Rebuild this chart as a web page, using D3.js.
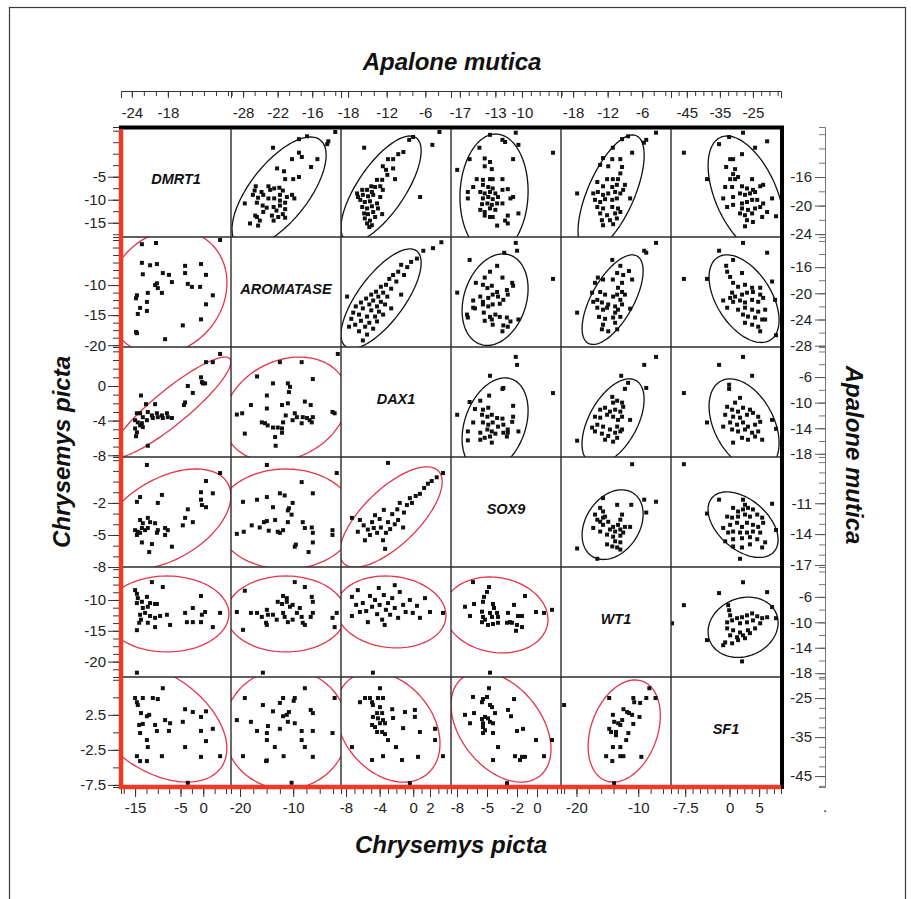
<!DOCTYPE html>
<html><head><meta charset="utf-8">
<script src="https://cdn.jsdelivr.net/npm/d3@7"></script>
<style>
body{margin:0;background:#fff;}
svg text{font-family:"Liberation Sans",Arial,sans-serif;}
</style></head>
<body>
<svg id="chart" width="911" height="899"></svg>
<script>
// ---------------- categories ----------------
const genes = ["DMRT1","AROMATASE","DAX1","SOX9","WT1","SF1"];

// ---------------- axis scales / tick labels ----------------
// Apalone mutica: top (x per column) and right (y per row)
const apTopDomains   = [[-25.8,-7.5],[-30.1,-11],[-19.1,-2],[-18,-5.6],[-20.1,-1],[-49.8,-16.5]];
const apTopTicks     = [[-24,-18],[-28,-22,-16],[-18,-12,-6],[-17,-13,-10],[-18,-12,-6],[-45,-35,-25]];
const apTopMinor     = [2,2,2,1,2,2.5];
const apRightDomains = [[-24.4,-9],[-28.2,-11.4],[-18.5,-1.3],[-17.2,-6.5],[-18.6,-1.3],[-47.8,-19.6]];
const apRightTicks   = [[-16,-20,-24],[-16,-20,-24,-28],[-6,-10,-14,-18],[-11,-14,-17],[-6,-10,-14,-18],[-25,-35,-45]];
const apRightMinor   = [2,2,2,1,2,2.5];
// Chrysemys picta: bottom (x per column) and left (y per row)
const cpBottomDomains = [[-18.1,6.1],[-21.7,-1],[-8.6,4.5],[-8.6,2.4],[-22.5,-4.7],[-9.9,8.7]];
const cpBottomTicks   = [[-15,-5,0],[-20,-10],[-8,-4,0,2],[-8,-5,-2,0],[-20,-10],[-7.5,0,5]];
const cpBottomMinor   = [2.5,2.5,1,1,2,1.25];
const cpLeftDomains   = [[-18.1,5.8],[-20.3,-2],[-8.2,4.5],[-8,2.3],[-22.5,-4.65],[-7.8,7.9]];
const cpLeftTicks     = [[-5,-10,-15],[-10,-15,-20],[0,-4,-8],[-2,-5,-8],[-10,-15,-20],[2.5,-2.5,-7.5]];
const cpLeftMinor     = [2.5,1.25,1,1,1.25,2.5];

// ---------------- Apalone mutica points [x = column gene, y = row gene] ----------------
const apDMRT1_AROM = [[-12.0,-9.7],[-13.2,-11.0],[-13.4,-11.4],[-16.9,-10.3],[-18.3,-10.7],[-22.8,-11.9],[-18.3,-12.6],[-17.8,-13.2],[-19.5,-13.5],[-15.1,-13.5],[-16.2,-14.6],[-22.1,-14.8],[-20.9,-15.2],[-20.7,-16.3],[-19.3,-16.3],[-18.3,-16.0],[-23.6,-17.3],[-25.8,-17.3],[-26.0,-17.9],[-24.8,-18.1],[-23.3,-17.8],[-22.6,-17.6],[-21.7,-17.5],[-21.1,-17.9],[-21.6,-18.5],[-20.4,-18.8],[-19.5,-18.5],[-26.3,-18.5],[-25.4,-18.9],[-24.5,-18.5],[-23.6,-19.0],[-22.6,-19.0],[-21.6,-19.3],[-20.7,-19.6],[-19.1,-19.0],[-25.6,-19.6],[-27.7,-19.7],[-24.6,-20.0],[-23.9,-20.3],[-22.7,-20.2],[-21.6,-20.0],[-20.7,-20.5],[-25.9,-21.4],[-24.5,-20.9],[-23.0,-21.4],[-22.2,-20.7],[-21.1,-21.2],[-20.7,-21.7],[-25.1,-22.1],[-26.8,-22.5],[-25.4,-22.8],[-22.7,-22.1],[-21.9,-21.6],[-25.6,-21.6]];
const apDMRT1_DAX1 = [[-3.8,-9.7],[-4.9,-11.5],[-6.8,-18.8],[-15.5,-11.9],[-8.5,-10.8],[-7.9,-10.4],[-9.4,-12.5],[-10.2,-12.8],[-11.0,-13.5],[-11.8,-13.5],[-12.6,-14.5],[-12.1,-15.0],[-11.0,-14.8],[-11.9,-15.7],[-10.7,-16.3],[-13.5,-16.4],[-12.7,-16.4],[-14.4,-17.3],[-13.8,-17.4],[-13.0,-17.3],[-16.6,-18.3],[-15.8,-17.8],[-15.05,-17.8],[-14.3,-18.1],[-16.45,-18.8],[-15.7,-18.5],[-14.9,-18.7],[-14.1,-18.5],[-13.0,-18.8],[-12.6,-17.8],[-16.1,-19.2],[-15.4,-19.5],[-14.6,-19.4],[-13.5,-19.7],[-15.8,-20.2],[-15.05,-20.4],[-14.3,-20.1],[-13.35,-20.4],[-15.5,-21.1],[-14.9,-21.2],[-14.1,-20.9],[-12.7,-21.2],[-15.4,-21.8],[-14.6,-22.1],[-13.8,-21.6],[-15.05,-22.5],[-14.3,-22.75],[-14.7,-23.0]];
const apDMRT1_SOX9 = [[-13.6,-10.1],[-10.7,-9.8],[-12.2,-10.8],[-11.9,-11.1],[-10.4,-11.5],[-14.8,-11.9],[-15.9,-13.5],[-11.0,-13.5],[-14.2,-13.4],[-13.6,-13.9],[-17.3,-15.0],[-14.2,-14.5],[-13.4,-14.9],[-15.1,-16.3],[-14.4,-16.4],[-13.6,-16.3],[-13.3,-16.3],[-12.2,-16.3],[-15.5,-17.4],[-16.1,-18.1],[-14.4,-17.1],[-13.8,-17.4],[-13.3,-17.6],[-14.7,-18.1],[-14.2,-18.3],[-13.6,-18.1],[-13.0,-18.3],[-12.2,-17.8],[-11.6,-17.7],[-16.1,-19.0],[-14.4,-19.0],[-13.8,-18.8],[-13.3,-19.1],[-12.7,-18.8],[-11.3,-19.0],[-11.0,-18.8],[-14.5,-19.8],[-13.9,-19.7],[-13.4,-19.9],[-12.8,-19.7],[-12.2,-19.7],[-14.7,-20.6],[-14.2,-20.9],[-13.6,-20.4],[-13.0,-20.6],[-10.4,-21.1],[-14.2,-21.4],[-13.6,-21.6],[-11.6,-21.4],[-11.9,-22.1],[-11.6,-22.5],[-12.8,-22.8],[-13.3,-21.6],[-6.5,-12.6]];
const apDMRT1_WT1 = [[-3.6,-9.8],[-8.45,-10.3],[-9.5,-10.7],[-5.3,-10.8],[-5.7,-11.2],[-11.1,-11.9],[-7.75,-12.6],[-12.8,-13.35],[-11.2,-13.5],[-9.8,-13.5],[-13.3,-14.3],[-11.9,-14.5],[-17.3,-18.3],[-9.5,-14.6],[-9.8,-15.5],[-10.2,-16.3],[-12.1,-16.3],[-11.1,-16.3],[-13.8,-16.7],[-12.8,-17.3],[-11.2,-17.4],[-10.4,-17.1],[-14.5,-18.3],[-13.7,-18.1],[-12.8,-18.5],[-11.9,-18.3],[-10.7,-18.1],[-9.8,-18.3],[-14.2,-19.2],[-13.3,-19.5],[-12.45,-19.1],[-11.2,-19.2],[-10.4,-19.0],[-8.1,-19.0],[-13.8,-20.2],[-12.8,-20.4],[-11.2,-20.2],[-10.2,-20.4],[-13.3,-21.1],[-12.1,-21.35],[-10.7,-21.1],[-9.8,-20.9],[-13.0,-22.05],[-11.6,-22.05],[-10.4,-21.8],[-12.8,-22.75],[-11.05,-22.6],[-9.0,-17.1],[-9.3,-17.8]];
const apDMRT1_SF1 = [[-45.9,-12.6],[-32.2,-10.4],[-28.0,-9.8],[-20.7,-11.0],[-35.25,-11.4],[-24.35,-11.9],[-28.3,-12.8],[-31.9,-13.5],[-31.0,-13.5],[-33.1,-14.6],[-30.4,-14.9],[-31.0,-15.6],[-29.5,-16.0],[-38.9,-16.3],[-31.9,-16.3],[-30.4,-16.3],[-25.25,-16.3],[-33.4,-17.4],[-31.3,-17.4],[-28.3,-17.3],[-26.8,-17.6],[-25.0,-17.8],[-22.8,-17.3],[-21.9,-17.1],[-34.0,-19.0],[-31.0,-18.8],[-28.9,-18.3],[-27.4,-18.5],[-25.9,-18.3],[-24.35,-18.1],[-19.2,-19.0],[-32.8,-20.2],[-31.0,-19.9],[-28.3,-19.7],[-26.8,-19.5],[-25.25,-19.2],[-23.7,-19.2],[-21.9,-19.7],[-28.3,-20.4],[-26.5,-20.6],[-24.35,-20.4],[-22.8,-20.2],[-28.9,-21.1],[-27.4,-21.35],[-25.25,-21.1],[-22.2,-21.6],[-18.0,-21.5],[-26.8,-22.05],[-25.0,-22.3],[-27.4,-22.9],[-20.7,-20.9]];
const apAROM_DAX1 = [[-3.5,-12.2],[-4.8,-13.1],[-6.3,-13.5],[-7.3,-14.7],[-8.2,-15.2],[-8.8,-16.0],[-9.75,-15.65],[-10.2,-16.7],[-9.3,-17.2],[-11.0,-17.2],[-11.6,-17.8],[-10.5,-18.2],[-12.1,-18.7],[-12.9,-19.0],[-11.3,-19.3],[-13.65,-19.75],[-12.55,-19.9],[-14.4,-20.2],[-13.3,-20.5],[-11.9,-20.5],[-15.2,-20.8],[-14.1,-21.1],[-12.9,-21.3],[-16.0,-21.4],[-14.7,-21.7],[-13.5,-22.0],[-12.25,-21.7],[-16.8,-22.0],[-15.7,-22.3],[-14.4,-22.6],[-13.2,-22.8],[-17.2,-22.95],[-16.3,-23.25],[-15.05,-23.55],[-13.8,-23.55],[-12.55,-23.25],[-17.5,-23.9],[-16.0,-24.2],[-14.7,-24.5],[-13.5,-24.3],[-16.9,-24.8],[-15.35,-25.1],[-14.1,-25.4],[-16.3,-25.8],[-15.05,-26.3],[-17.85,-25.1],[-11.3,-22.3],[-18.15,-20.5],[-9.75,-20.2],[-15.7,-27.2]];
const apAROM_SOX9 = [[-10.7,-12.3],[-10.55,-13.5],[-12.0,-13.8],[-15.9,-14.9],[-12.8,-15.8],[-6.5,-17.8],[-15.2,-18.4],[-14.2,-17.6],[-13.6,-16.7],[-12.2,-17.6],[-11.1,-18.4],[-11.0,-18.85],[-14.4,-18.7],[-13.9,-19.2],[-13.4,-18.85],[-12.8,-19.8],[-11.7,-19.5],[-17.3,-19.9],[-15.5,-21.1],[-14.7,-20.5],[-14.4,-21.3],[-13.8,-20.7],[-13.3,-20.2],[-12.7,-20.5],[-12.1,-21.0],[-11.6,-20.2],[-15.3,-22.3],[-14.4,-21.7],[-13.8,-22.0],[-13.3,-21.7],[-12.5,-21.6],[-16.2,-23.25],[-16.1,-23.7],[-14.3,-22.95],[-13.6,-23.6],[-13.0,-23.25],[-12.5,-23.6],[-11.7,-23.7],[-11.3,-24.3],[-14.2,-24.2],[-13.4,-24.0],[-10.4,-24.0],[-11.6,-25.1],[-12.1,-24.9],[-12.2,-25.8],[-13.3,-24.8],[-15.5,-22.2]];
const apAROM_WT1 = [[-3.6,-12.3],[-5.65,-13.5],[-5.3,-13.8],[-11.2,-14.9],[-9.8,-15.8],[-17.3,-22.95],[-8.3,-16.6],[-10.35,-16.9],[-9.3,-17.2],[-13.7,-17.6],[-12.8,-17.9],[-11.1,-17.9],[-9.5,-18.4],[-7.75,-17.9],[-14.2,-18.4],[-10.2,-19.15],[-9.5,-19.8],[-14.7,-19.9],[-13.3,-19.8],[-12.45,-20.2],[-11.05,-20.5],[-10.35,-20.2],[-9.8,-21.0],[-9.0,-20.2],[-14.5,-21.3],[-13.8,-21.0],[-13.0,-21.4],[-11.9,-21.7],[-10.7,-22.0],[-9.5,-21.7],[-12.8,-22.5],[-12.1,-22.2],[-10.2,-22.5],[-10.7,-22.95],[-13.5,-23.6],[-12.45,-23.9],[-11.05,-23.7],[-9.8,-23.6],[-12.8,-24.8],[-10.7,-24.5],[-11.9,-25.8],[-10.35,-25.5],[-8.1,-22.35],[-13.0,-25.5],[-13.8,-22.2]];
const apAROM_SF1 = [[-45.9,-17.8],[-38.9,-17.8],[-35.25,-13.5],[-28.0,-12.3],[-20.7,-13.8],[-33.1,-15.8],[-31.0,-14.9],[-32.8,-16.7],[-31.9,-17.5],[-28.3,-16.9],[-31.0,-18.4],[-29.5,-19.0],[-27.4,-18.7],[-25.25,-19.15],[-22.8,-19.15],[-19.2,-18.2],[-34.0,-21.1],[-32.8,-22.2],[-31.3,-19.9],[-30.4,-20.5],[-28.3,-20.2],[-26.8,-19.9],[-25.0,-19.8],[-22.8,-20.2],[-31.0,-21.3],[-28.9,-21.1],[-27.4,-21.4],[-25.25,-21.0],[-23.4,-21.3],[-21.9,-20.7],[-29.5,-22.5],[-27.4,-22.2],[-25.25,-22.5],[-23.4,-22.8],[-21.3,-22.5],[-28.0,-23.25],[-26.5,-23.55],[-24.35,-23.7],[-22.2,-24.0],[-27.4,-24.5],[-25.25,-24.8],[-23.4,-25.1],[-21.3,-24.0],[-22.8,-25.8],[-18.3,-21.0],[-18.0,-26.4],[-31.9,-20.7]];
const apDAX1_SOX9 = [[-10.7,-2.85],[-10.55,-4.1],[-13.6,-5.8],[-12.1,-7.7],[-12.2,-7.85],[-6.5,-8.5],[-15.9,-9.9],[-14.7,-9.7],[-13.7,-8.9],[-11.0,-10.5],[-15.3,-11.0],[-14.4,-11.1],[-13.8,-10.8],[-17.3,-11.9],[-14.5,-11.9],[-13.9,-12.2],[-13.4,-11.9],[-12.8,-12.4],[-12.2,-12.5],[-11.1,-13.0],[-11.0,-12.2],[-14.4,-13.1],[-13.8,-13.45],[-13.3,-13.1],[-12.7,-13.75],[-12.1,-13.45],[-11.6,-14.2],[-16.1,-14.5],[-14.7,-14.7],[-13.9,-14.2],[-13.4,-14.5],[-13.0,-14.85],[-12.1,-14.7],[-10.4,-14.5],[-16.1,-15.9],[-14.7,-15.8],[-14.2,-15.5],[-13.6,-15.3],[-13.4,-16.25],[-11.7,-15.3],[-11.6,-14.7],[-15.5,-13.1]];
const apDAX1_WT1 = [[-3.6,-2.85],[-5.65,-4.1],[-9.65,-5.8],[-8.45,-6.9],[-9.0,-7.85],[-5.3,-7.7],[-11.05,-10.0],[-11.2,-9.1],[-17.3,-15.95],[-10.35,-9.7],[-9.5,-10.0],[-13.3,-11.1],[-12.45,-10.8],[-11.6,-11.4],[-10.7,-11.1],[-9.8,-11.4],[-9.3,-10.65],[-14.2,-12.2],[-13.3,-12.35],[-12.1,-11.9],[-11.05,-12.2],[-10.2,-12.7],[-9.5,-12.2],[-14.7,-13.9],[-13.8,-13.45],[-12.8,-13.75],[-11.6,-14.2],[-10.35,-13.75],[-9.5,-14.2],[-8.1,-12.7],[-14.2,-14.5],[-13.0,-14.85],[-11.9,-15.2],[-10.7,-14.7],[-9.8,-14.5],[-12.45,-15.8],[-11.05,-16.1],[-10.35,-15.5]];
const apDAX1_SF1 = [[-45.9,-8.5],[-35.25,-4.1],[-28.0,-2.85],[-25.25,-5.8],[-32.2,-7.2],[-32.2,-7.85],[-38.9,-13.1],[-30.4,-10.0],[-28.9,-9.25],[-32.8,-10.65],[-31.3,-11.1],[-29.5,-11.4],[-28.0,-10.8],[-25.9,-11.1],[-33.4,-11.9],[-31.0,-12.2],[-28.9,-12.35],[-26.8,-11.9],[-25.0,-11.6],[-23.4,-12.2],[-34.0,-13.75],[-31.9,-13.1],[-29.8,-13.45],[-28.0,-13.1],[-26.5,-13.75],[-24.35,-13.45],[-22.8,-13.0],[-31.3,-14.2],[-29.5,-14.5],[-27.4,-14.2],[-25.25,-14.7],[-23.4,-14.5],[-28.3,-15.5],[-26.5,-15.8],[-24.35,-15.3],[-22.2,-15.8],[-19.2,-12.7],[-18.0,-14.1],[-31.0,-16.25]];
const apSOX9_WT1 = [[-7.75,-7.2],[-12.8,-10.5],[-10.35,-11.15],[-7.9,-11.15],[-5.65,-10.65],[-3.6,-10.85],[-5.3,-11.9],[-17.3,-15.4],[-13.8,-16.4],[-13.3,-11.45],[-12.8,-11.8],[-12.45,-12.3],[-14.2,-12.1],[-13.8,-12.6],[-14.5,-13.4],[-13.3,-12.8],[-12.8,-13.1],[-13.3,-13.75],[-9.5,-12.1],[-9.8,-12.6],[-10.2,-13.1],[-9.0,-13.3],[-8.1,-13.3],[-11.05,-13.3],[-11.6,-13.55],[-10.7,-13.75],[-9.8,-13.55],[-9.3,-13.85],[-12.1,-14.05],[-11.05,-14.25],[-9.8,-14.15],[-10.7,-14.7],[-9.8,-14.8],[-12.1,-15.0],[-11.2,-15.2],[-10.35,-15.3],[-9.8,-15.5],[-12.8,-12.4],[-11.9,-12.8]];
const apSOX9_SF1 = [[-45.9,-7.2],[-35.25,-10.65],[-38.9,-12.0],[-28.0,-10.65],[-27.4,-11.15],[-19.2,-11.05],[-31.0,-11.45],[-29.5,-11.8],[-28.0,-11.6],[-26.5,-11.45],[-25.0,-11.6],[-32.8,-12.3],[-31.3,-12.4],[-29.5,-12.3],[-27.4,-12.1],[-25.9,-12.3],[-23.7,-12.1],[-22.2,-12.4],[-34.0,-13.4],[-31.9,-13.1],[-29.8,-12.9],[-28.3,-13.3],[-26.8,-12.9],[-25.0,-13.1],[-23.4,-13.3],[-21.9,-12.9],[-32.5,-13.85],[-31.0,-13.75],[-28.9,-13.85],[-26.8,-13.85],[-25.0,-13.75],[-22.8,-13.85],[-31.0,-14.5],[-28.3,-14.4],[-25.9,-14.3],[-23.7,-14.5],[-31.0,-15.2],[-28.3,-15.3],[-25.9,-15.0],[-22.2,-15.3],[-21.3,-14.8],[-28.9,-16.4],[-18.0,-13.6],[-33.4,-14.7]];
const apWT1_SF1 = [[-28.0,-3.7],[-35.25,-5.4],[-20.7,-5.25],[-45.9,-7.3],[-49.5,-10.15],[-38.9,-12.8],[-32.5,-7.3],[-32.2,-8.1],[-31.9,-8.9],[-29.8,-9.35],[-28.3,-9.2],[-26.8,-8.9],[-25.25,-8.6],[-23.7,-9.05],[-22.2,-9.35],[-20.7,-9.2],[-19.2,-7.6],[-32.8,-10.0],[-31.3,-9.7],[-28.9,-10.15],[-26.8,-10.0],[-25.0,-9.7],[-22.8,-10.15],[-32.8,-10.95],[-31.0,-11.25],[-28.9,-11.6],[-26.5,-11.25],[-24.35,-10.95],[-31.9,-12.05],[-29.8,-12.35],[-28.0,-12.05],[-25.9,-11.7],[-33.4,-13.15],[-31.3,-13.3],[-29.5,-12.8],[-27.4,-12.5],[-34.0,-13.6],[-18.0,-9.35],[-28.3,-16.15]];

// ---------------- Chrysemys picta points [x = column gene, y = row gene] ----------------
const cpAROM_DMRT1 = [[-13.5,-3.2],[-10.4,-3.0],[3.7,-2.5],[-13.5,-6.3],[-11.7,-6.7],[-10.2,-6.5],[-13.3,-8.2],[-8.9,-8.0],[-7.55,-8.3],[-6.9,-9.5],[-10.2,-9.7],[-10.6,-10.0],[-10.0,-10.5],[-9.1,-11.3],[-12.2,-11.3],[-12.4,-12.8],[-14.6,-11.7],[-14.8,-12.2],[-4.0,-6.8],[-4.0,-8.0],[-0.5,-6.5],[0.6,-8.3],[-3.4,-9.8],[-2.5,-10.3],[-0.7,-10.3],[2.1,-11.7],[0.6,-13.2],[-13.9,-13.8],[-12.4,-14.3],[-14.4,-14.8],[-0.5,-15.7],[-4.5,-16.7],[-14.8,-17.8],[-14.6,-18.0],[-8.4,-19.0]];
const cpDAX1_DMRT1 = [[3.7,3.7],[2.1,2.75],[0.6,2.75],[-0.5,1.0],[-0.3,0.45],[-0.1,0.3],[0.4,0.3],[-3.4,0.0],[-2.3,-0.8],[-13.7,-1.1],[-4.0,-1.9],[-4.25,-2.2],[-12.6,-2.1],[-10.6,-2.1],[-14.6,-3.15],[-13.9,-3.15],[-13.3,-3.6],[-12.2,-3.0],[-11.3,-3.4],[-10.2,-3.15],[-9.1,-3.4],[-8.0,-3.15],[-6.9,-3.7],[-15.0,-3.95],[-14.4,-4.2],[-13.5,-4.3],[-12.4,-3.95],[-11.1,-3.7],[-10.0,-3.6],[-8.9,-3.7],[-7.8,-3.6],[-15.0,-4.9],[-14.6,-5.35],[-13.9,-4.55],[-13.3,-4.75],[-14.8,-5.8],[-12.2,-6.9]];
const cpDAX1_AROM = [[-1.6,3.7],[-12.5,2.75],[-8.4,2.75],[-16.8,1.1],[-6.3,0.8],[-13.8,0.3],[-11.0,0.3],[-10.6,-0.1],[-10.8,-0.7],[-14.95,-1.1],[-17.95,-2.2],[-19.6,-3.15],[-20.6,-3.3],[-19.1,-5.5],[-14.95,-2.6],[-12.1,-2.2],[-11.0,-2.0],[-7.8,-1.8],[-6.7,-2.2],[-15.9,-4.2],[-15.3,-4.3],[-14.8,-4.55],[-13.8,-4.8],[-12.9,-4.8],[-11.9,-4.2],[-12.1,-4.9],[-13.4,-5.9],[-12.1,-5.4],[-9.7,-3.15],[-9.3,-3.6],[-8.2,-3.6],[-7.4,-3.7],[-6.9,-3.95],[-6.3,-3.6],[-8.4,-4.3],[-6.5,-4.2],[-2.6,-3.0],[-2.2,-3.15],[-13.3,-6.9],[-10.1,-3.95],[-11.4,-3.4]];
const cpSOX9_DMRT1 = [[-12.4,1.55],[3.7,0.8],[0.6,0.05],[-0.5,-1.0],[2.1,-1.1],[-14.6,-1.9],[-13.9,-1.45],[-9.1,-1.25],[-10.0,-2.0],[-0.5,-1.7],[-0.3,-2.2],[0.6,-2.4],[-3.4,-2.6],[-4.0,-3.4],[-2.3,-3.8],[-4.5,-4.1],[-13.9,-3.6],[-13.3,-3.9],[-12.2,-3.4],[-11.7,-3.8],[-15.0,-4.55],[-14.4,-4.7],[-13.5,-4.35],[-12.8,-4.55],[-12.2,-4.35],[-10.6,-3.9],[-10.0,-4.55],[-8.4,-4.35],[-7.8,-4.55],[-14.6,-5.0],[-13.9,-4.8],[-10.2,-4.8],[-8.4,-5.0],[-13.5,-5.7],[-11.3,-5.85],[-11.9,-6.6],[-6.9,-6.1]];
const cpSOX9_AROM = [[-14.95,1.55],[-1.8,0.8],[-8.4,-0.05],[-6.3,-1.1],[-12.5,-1.1],[-11.6,-1.3],[-19.45,-1.9],[-16.8,-1.7],[-14.95,-1.45],[-13.8,-2.4],[-10.8,-2.5],[-10.1,-2.0],[-10.3,-3.1],[-11.0,-2.7],[-20.6,-4.9],[-19.3,-4.7],[-17.8,-4.1],[-16.3,-4.3],[-15.5,-3.8],[-14.6,-4.6],[-13.4,-3.6],[-12.9,-4.7],[-11.9,-4.55],[-11.0,-3.8],[-12.5,-4.8],[-9.7,-6.1],[-9.5,-5.9],[-8.2,-3.8],[-7.8,-4.35],[-6.5,-4.3],[-6.3,-4.8],[-7.1,-6.6],[-6.3,-5.7],[-2.6,-4.55],[-2.6,-5.0],[-14.95,-3.7]];
const cpSOX9_DAX1 = [[-7.3,-3.4],[-6.6,-4.7],[-5.9,-4.1],[-5.4,-4.5],[-4.9,-3.8],[-4.7,-4.35],[-4.3,-4.8],[-4.0,-3.5],[-3.85,-4.3],[-3.6,-5.5],[-3.35,-6.3],[-3.25,-4.8],[-3.0,-3.8],[-2.75,-4.45],[-2.5,-3.05],[-2.2,-4.0],[-1.9,-2.6],[-1.6,-2.0],[-1.1,-2.9],[-0.75,-2.2],[-0.4,-1.55],[-0.15,-2.0],[0.3,-1.35],[0.8,-1.15],[1.3,-0.6],[1.75,-0.2],[2.2,0.05],[2.8,0.4],[3.55,0.8],[-3.0,1.75],[-4.55,-3.15],[-5.15,-5.0],[-6.35,-3.6],[-1.8,-3.6],[-1.2,-4.3],[-5.75,-5.5],[-3.5,-2.65]];
const cpWT1_DMRT1 = [[-11.3,-7.1],[-8.9,-7.9],[-15.0,-8.4],[-14.6,-9.0],[-14.4,-9.7],[-14.6,-10.5],[-13.5,-10.3],[-12.4,-9.5],[-11.7,-10.5],[-10.6,-10.65],[-10.2,-10.65],[-12.2,-11.1],[-13.3,-11.3],[-13.9,-12.4],[-13.7,-13.2],[-14.1,-13.7],[-12.8,-12.1],[-11.7,-12.6],[-10.6,-12.9],[-9.5,-12.6],[-8.0,-12.4],[-12.2,-13.7],[-10.6,-14.4],[-7.3,-14.05],[-14.6,-14.9],[-4.0,-12.1],[-3.6,-13.6],[-2.3,-13.6],[-2.3,-11.3],[-0.5,-9.35],[-0.5,-13.6],[0.4,-11.95],[-0.3,-12.4],[2.1,-14.4],[3.7,-12.1],[-14.6,-21.8]];
const cpWT1_AROM = [[-19.1,-8.5],[-9.7,-7.1],[-7.8,-7.9],[-11.9,-9.35],[-11.2,-9.7],[-20.6,-11.95],[-19.45,-14.85],[-17.95,-12.1],[-16.8,-12.1],[-14.95,-11.6],[-14.75,-12.4],[-15.9,-12.75],[-15.1,-13.7],[-14.95,-14.05],[-13.8,-12.4],[-13.1,-13.2],[-11.9,-12.1],[-11.6,-12.75],[-12.9,-10.3],[-12.1,-10.65],[-11.2,-10.3],[-10.6,-11.1],[-10.1,-10.8],[-8.75,-11.3],[-11.0,-13.6],[-10.1,-13.2],[-9.3,-12.1],[-8.4,-12.75],[-8.2,-13.7],[-7.8,-14.05],[-6.5,-9.5],[-6.3,-10.3],[-6.3,-12.1],[-6.7,-12.75],[-2.6,-12.9],[-2.2,-14.4],[-15.7,-21.8],[-1.8,-12.1]];
const cpWT1_DAX1 = [[-7.3,-9.5],[-7.3,-12.6],[-6.6,-8.4],[-6.0,-10.5],[-5.6,-11.8],[-5.15,-9.35],[-4.9,-11.1],[-4.55,-10.0],[-4.3,-12.3],[-4.0,-10.8],[-3.7,-13.2],[-3.5,-9.2],[-3.25,-11.6],[-3.0,-10.5],[-2.75,-12.4],[-2.5,-9.7],[-2.2,-11.3],[-1.8,-12.9],[-1.6,-8.7],[-1.2,-10.8],[-0.9,-11.95],[-0.4,-10.0],[-0.05,-12.1],[0.45,-10.95],[0.8,-12.9],[1.4,-9.7],[2.0,-11.95],[3.55,-12.1],[-6.35,-11.95],[-5.4,-13.6],[-4.1,-8.05],[-4.8,-21.8],[-2.2,-7.6],[-6.8,-10.8],[-3.4,-14.05]];
const cpWT1_SOX9 = [[-6.4,-7.1],[-4.8,-7.9],[-5.0,-8.7],[-5.3,-9.5],[-5.4,-10.3],[-7.2,-11.1],[-6.3,-10.65],[-4.4,-10.65],[-4.3,-11.3],[-4.0,-12.1],[-6.7,-12.6],[-5.5,-11.9],[-5.4,-12.75],[-5.2,-13.2],[-5.5,-13.6],[-4.7,-12.1],[-4.5,-12.75],[-3.9,-12.75],[-4.9,-14.05],[-4.4,-13.9],[-3.9,-13.7],[-2.3,-10.8],[-1.2,-9.35],[-2.9,-12.1],[-2.7,-13.6],[-3.0,-13.7],[-1.9,-12.6],[-1.5,-12.6],[-2.5,-13.7],[-2.0,-14.05],[-1.5,-14.4],[-2.1,-15.0],[-0.1,-11.95],[0.7,-12.1],[1.5,-11.6],[-4.7,-21.8]];
const cpSF1_DMRT1 = [[-8.9,6.3],[-15.0,4.9],[-14.6,4.3],[-14.4,3.9],[-13.3,4.9],[-11.1,4.9],[-10.0,4.75],[-13.7,2.75],[-12.4,2.3],[-11.9,2.5],[-14.1,1.05],[-13.3,1.2],[-13.9,-0.1],[-10.6,1.05],[-10.2,0.2],[-8.4,1.75],[-7.3,1.3],[-7.55,0.2],[-12.4,-1.1],[-12.2,-2.1],[-14.6,-3.4],[-13.9,-4.1],[-12.4,-4.1],[-9.1,-3.4],[-4.0,3.3],[-2.3,2.9],[0.6,3.0],[-0.5,2.2],[-4.5,1.5],[-0.5,0.2],[0.6,-1.25],[2.1,0.5],[-4.0,-2.1],[-0.5,-3.5],[3.7,-3.4],[-3.4,-7.2]];
const cpSF1_AROM = [[-7.8,6.3],[-19.1,4.9],[-12.5,4.2],[-11.9,4.9],[-9.7,4.9],[-9.9,4.5],[-15.7,3.9],[-2.2,4.9],[-20.6,1.75],[-17.95,1.5],[-16.8,0.2],[-13.8,3.0],[-11.9,2.3],[-11.2,2.5],[-10.8,2.9],[-11.0,1.5],[-9.7,1.3],[-12.5,0.5],[-14.75,0.9],[-14.95,-0.1],[-14.95,-1.1],[-8.4,0.2],[-8.4,-1.1],[-7.8,-2.1],[-6.7,3.2],[-6.3,2.75],[-6.3,0.2],[-2.6,-0.1],[-13.45,-2.1],[-11.8,-3.4],[-15.1,-4.1],[-14.95,-4.0],[-19.45,-3.4],[-6.3,-3.5],[-10.3,-7.2]];
const cpSF1_DAX1 = [[-3.96,6.3],[-6.34,4.3],[-5.74,4.9],[-5.15,4.9],[-4.9,4.3],[-4.8,3.9],[-4.2,4.9],[-3.6,4.9],[-3.96,3.6],[-4.3,2.75],[-3.7,2.75],[-4.8,2.2],[-4.2,2.0],[-3.6,1.75],[-4.9,1.05],[-4.55,0.75],[-3.96,1.3],[-3.36,1.3],[-4.3,0.05],[-3.7,0.05],[-3.36,-0.25],[-3.0,-1.1],[-2.05,-2.1],[-2.5,3.3],[-0.98,2.9],[0.2,3.2],[0.2,2.2],[0.8,0.05],[2.6,0.5],[2.6,-1.1],[-3.6,-3.4],[-1.34,-3.95],[0.57,-3.5],[-4.9,-3.95],[3.54,-3.4],[-7.3,-2.1],[-0.4,-7.25],[-2.4,2.05],[-1.2,0.6]];
const cpSF1_SOX9 = [[-4.8,6.3],[-6.4,5.05],[-5.5,4.3],[-5.4,4.75],[-5.0,5.05],[-4.7,3.9],[-4.5,3.6],[-2.3,4.75],[-7.2,2.5],[-6.3,2.75],[-6.7,1.3],[-5.5,1.9],[-5.2,2.2],[-5.4,1.3],[-4.9,2.0],[-4.7,1.5],[-4.4,1.3],[-5.4,0.75],[-5.2,0.3],[-5.4,-0.1],[-4.4,-0.1],[-2.9,3.2],[-2.6,2.3],[-3.9,-2.1],[-2.0,0.2],[-1.4,0.5],[-0.1,-1.1],[1.5,-1.1],[-2.2,-3.4],[-1.7,-3.95],[-1.5,-3.5],[-1.2,-3.5],[0.7,-3.4],[-4.4,-3.95],[-3.0,-7.25],[-4.2,2.75]];
const cpSF1_WT1 = [[-22.0,3.9],[-8.2,6.3],[-14.7,4.9],[-10.8,4.9],[-10.65,4.3],[-9.7,4.2],[-8.7,4.9],[-7.2,4.9],[-12.4,3.3],[-11.8,2.9],[-11.0,2.5],[-11.5,2.75],[-14.1,2.5],[-13.9,1.5],[-9.8,2.2],[-12.6,1.75],[-12.9,1.05],[-13.25,1.3],[-10.8,1.2],[-14.7,0.5],[-14.4,0.05],[-13.6,0.05],[-13.6,-0.4],[-11.6,-0.1],[-11.95,-1.1],[-14.1,-2.1],[-12.9,-2.1],[-15.2,-3.4],[-14.2,-4.1],[-12.9,-3.4],[-12.4,-3.4],[-9.5,-3.5],[-13.9,-7.25]];

// ---------------- density ellipses: [meanX, meanY, halfRangeX, halfRangeY, correlation] ----------------
const apEllipses = [
  [0,1,[-21.75,-18.12,8.17,7.72,0.67]],[0,2,[-12.87,-17.7,6.23,7.44,0.72]],[0,3,[-13.15,-18.4,3.84,8.42,0.05]],
  [0,4,[-11.4,-18.26,5.74,8.14,0.65]],[0,5,[-27.07,-18.54,11.5,8.28,-0.5]],
  [1,2,[-12.87,-20.82,6.23,7.6,0.72]],[1,3,[-13.03,-20.97,3.72,6.99,0.24]],[1,4,[-11.14,-20.97,5.3,6.84,0.64]],
  [1,5,[-27.68,-20.82,10.6,6.69,-0.49]],
  [2,3,[-13.03,-13.45,3.72,7.32,0.3]],[2,4,[-11.06,-12.98,5.39,6.7,0.52]],[2,5,[-27.68,-13.45,10.6,7.17,-0.4]],
  [3,4,[-11.14,-13.08,5.3,3.39,0.3]],[3,5,[-27.98,-13.08,10.6,3.19,-0.46]],
  [4,5,[-27.98,-10.78,10.6,4.74,0.15]]
];
const cpEllipses = [
  [1,0,[-7.99,-11.17,13.2,10.33,0.15]],
  [2,0,[-7.11,-2.46,13.19,5.8,0.9]],[2,1,[-11.38,-2.69,11.63,6.03,0.22]],
  [3,0,[-8.21,-3.51,14.29,4.69,0.46]],[3,1,[-11.38,-3.51,13.13,4.69,0]],[3,2,[-2.65,-3.32,6.1,4.7,0.7]],
  [4,0,[-7.99,-12.27,13.63,6.16,0]],[4,1,[-11.38,-12.27,11.26,6.16,0]],[4,2,[-2.65,-11.94,6.55,5.83,-0.1]],[4,3,[-4.1,-12.43,5.2,6.16,-0.12]],
  [5,0,[-10.41,1.47,15.6,8.57,-0.44]],[5,1,[-11.38,0.47,11.63,8.57,0]],[5,2,[-3.0,0.76,6.19,7.86,-0.3]],[5,3,[-3.6,0.76,5.0,7.86,-0.4]],[5,4,[-12.27,0.19,5.84,7.29,0.3]]
];
const apPoints = {"0,1":apDMRT1_AROM,"0,2":apDMRT1_DAX1,"0,3":apDMRT1_SOX9,"0,4":apDMRT1_WT1,"0,5":apDMRT1_SF1,
  "1,2":apAROM_DAX1,"1,3":apAROM_SOX9,"1,4":apAROM_WT1,"1,5":apAROM_SF1,"2,3":apDAX1_SOX9,"2,4":apDAX1_WT1,"2,5":apDAX1_SF1,
  "3,4":apSOX9_WT1,"3,5":apSOX9_SF1,"4,5":apWT1_SF1};
const cpPoints = {"1,0":cpAROM_DMRT1,"2,0":cpDAX1_DMRT1,"2,1":cpDAX1_AROM,"3,0":cpSOX9_DMRT1,"3,1":cpSOX9_AROM,"3,2":cpSOX9_DAX1,
  "4,0":cpWT1_DMRT1,"4,1":cpWT1_AROM,"4,2":cpWT1_DAX1,"4,3":cpWT1_SOX9,
  "5,0":cpSF1_DMRT1,"5,1":cpSF1_AROM,"5,2":cpSF1_DAX1,"5,3":cpSF1_SOX9,"5,4":cpSF1_WT1};

// ---------------- drawing ----------------
const svg = d3.select("#chart");
const L = 121, T = 127, S = 110;
const RED = "#ee3a24", ELL_RED = "#e3344a";
const FONT = "Liberation Sans, Arial, sans-serif";

svg.append("rect").attr("x",9.5).attr("y",7.5).attr("width",896).attr("height",910)
  .attr("fill","none").attr("stroke","#3a3a3a").attr("stroke-width",1.2);

function panel(row, col, pts, ell, xDom, yDom, color){
  const g = svg.append("g").attr("transform",`translate(${L+col*S},${T+row*S})`);
  const id = `clip_${row}_${col}`;
  g.append("clipPath").attr("id",id).append("rect").attr("width",S).attr("height",S);
  const x = d3.scaleLinear().domain(xDom).range([0,S]);
  const y = d3.scaleLinear().domain(yDom).range([S,0]);
  const inner = g.append("g").attr("clip-path",`url(#${id})`);
  const [mx,my,ax,ay,r] = ell;
  const ts = d3.range(0,360,3).map(d=>d*Math.PI/180);
  const line = d3.line()
    .x(t=>x(mx+ax*Math.cos(t)))
    .y(t=>y(my+ay*(r*Math.cos(t)+Math.sqrt(1-r*r)*Math.sin(t))))
    .curve(d3.curveLinearClosed);
  inner.append("path").attr("d",line(ts)).attr("fill","none").attr("stroke",color).attr("stroke-width",1.3);
  inner.selectAll("rect.pt").data(pts).join("rect").attr("class","pt")
    .attr("x",d=>x(d[0])-2).attr("y",d=>y(d[1])-2).attr("width",4).attr("height",4).attr("fill","#111");
}
apEllipses.forEach(([r,c,e])=>panel(r,c,apPoints[`${r},${c}`],e,apTopDomains[c],apRightDomains[r],"#111"));
cpEllipses.forEach(([r,c,e])=>panel(r,c,cpPoints[`${r},${c}`],e,cpBottomDomains[c],cpLeftDomains[r],ELL_RED));

// grid lines
const grid = svg.append("g").attr("stroke","#2a2a2a").attr("stroke-width",1.4);
for(let i=1;i<6;i++){
  grid.append("line").attr("x1",L+i*S).attr("x2",L+i*S).attr("y1",T).attr("y2",T+6*S);
  grid.append("line").attr("y1",T+i*S).attr("y2",T+i*S).attr("x1",L).attr("x2",L+6*S);
}
// diagonal labels
genes.forEach((g,i)=>{
  svg.append("text").attr("x",L+i*S+55).attr("y",T+i*S+57).attr("text-anchor","middle")
    .attr("font-size",14.5).attr("font-weight","bold").attr("font-style","italic").attr("fill","#111").text(g);
});

function minorVals(dom, step){
  const lo = Math.min(...dom), hi = Math.max(...dom), v = [];
  for(let k=Math.ceil(lo/step-1e-9); k*step<=hi+1e-9; k++) v.push(+(k*step).toFixed(4));
  return v;
}
function styleAxis(g, stroke){
  g.attr("font-size",15).attr("font-family",FONT);
  g.selectAll("line").attr("stroke",stroke);
  g.selectAll("path").attr("stroke",stroke);
  g.selectAll("text").attr("fill","#222");
}
const fmt = d => String(d);

// top axes (Apalone x)
apTopDomains.forEach((dom,c)=>{
  const x = d3.scaleLinear().domain(dom).range([0,S]);
  const gm = svg.append("g").attr("transform",`translate(${L+c*S},91)`)
    .call(d3.axisBottom(x).tickValues(minorVals(dom,apTopMinor[c])).tickSize(5).tickSizeOuter(7).tickFormat(""));
  styleAxis(gm,"#333");
  const gM = svg.append("g").attr("transform",`translate(${L+c*S},91)`)
    .call(d3.axisBottom(x).tickValues(apTopTicks[c]).tickSize(7).tickPadding(9).tickFormat(fmt));
  gM.select(".domain").remove();
  styleAxis(gM,"#333");
});
// right axes (Apalone y)
apRightDomains.forEach((dom,r)=>{
  const y = d3.scaleLinear().domain(dom).range([S,0]);
  const gm = svg.append("g").attr("transform",`translate(825,${T+r*S})`)
    .call(d3.axisLeft(y).tickValues(minorVals(dom,apRightMinor[r])).tickSize(6).tickSizeOuter(6).tickFormat(""));
  styleAxis(gm,"#777");
  const gM = svg.append("g").attr("transform",`translate(825,${T+r*S})`)
    .call(d3.axisLeft(y).tickValues(apRightTicks[r]).tickSize(10).tickPadding(3).tickFormat(fmt));
  gM.select(".domain").remove();
  styleAxis(gM,"#555");
});
// left axes (Chrysemys y)
cpLeftDomains.forEach((dom,r)=>{
  const y = d3.scaleLinear().domain(dom).range([S,0]);
  const gm = svg.append("g").attr("transform",`translate(119,${T+r*S})`)
    .call(d3.axisLeft(y).tickValues(minorVals(dom,cpLeftMinor[r])).tickSize(6).tickSizeOuter(6).tickFormat(""));
  styleAxis(gm,"#333");
  const gM = svg.append("g").attr("transform",`translate(119,${T+r*S})`)
    .call(d3.axisLeft(y).tickValues(cpLeftTicks[r]).tickSize(11).tickPadding(2).tickFormat(fmt));
  gM.select(".domain").remove();
  styleAxis(gM,"#333");
});
// bottom axes (Chrysemys x)
cpBottomDomains.forEach((dom,c)=>{
  const x = d3.scaleLinear().domain(dom).range([0,S]);
  const gm = svg.append("g").attr("transform",`translate(${L+c*S},788)`)
    .call(d3.axisBottom(x).tickValues(minorVals(dom,cpBottomMinor[c])).tickSize(6).tickSizeOuter(6).tickFormat(""));
  styleAxis(gm,"#333");
  const gM = svg.append("g").attr("transform",`translate(${L+c*S},788)`)
    .call(d3.axisBottom(x).tickValues(cpBottomTicks[c]).tickSize(9).tickPadding(5).tickFormat(fmt));
  gM.select(".domain").remove();
  styleAxis(gM,"#333");
});

// thick frame
svg.append("line").attr("x1",119).attr("x2",784).attr("y1",127.5).attr("y2",127.5).attr("stroke","#000").attr("stroke-width",4);
svg.append("line").attr("x1",782).attr("x2",782).attr("y1",126).attr("y2",789).attr("stroke","#000").attr("stroke-width",4);
svg.append("line").attr("x1",121).attr("x2",121).attr("y1",129).attr("y2",789).attr("stroke",RED).attr("stroke-width",4.5);
svg.append("line").attr("x1",119).attr("x2",781).attr("y1",787).attr("y2",787).attr("stroke",RED).attr("stroke-width",4.5);

// titles
const tstyle = sel => sel.attr("font-size",24).attr("font-weight","bold").attr("font-style","italic").attr("fill","#111").attr("text-anchor","middle");
svg.append("text").attr("x",452).attr("y",70).text("Apalone mutica").call(tstyle);
svg.append("text").attr("x",451).attr("y",853).text("Chrysemys picta").call(tstyle);
svg.append("text").attr("transform","translate(70,452) rotate(-90)").text("Chrysemys picta").call(tstyle);
svg.append("text").attr("transform","translate(846,455) rotate(90)").text("Apalone mutica").call(tstyle);
svg.append("text").attr("x",823).attr("y",812).attr("font-size",15).attr("fill","#222").text(".");
</script>
</body></html>
